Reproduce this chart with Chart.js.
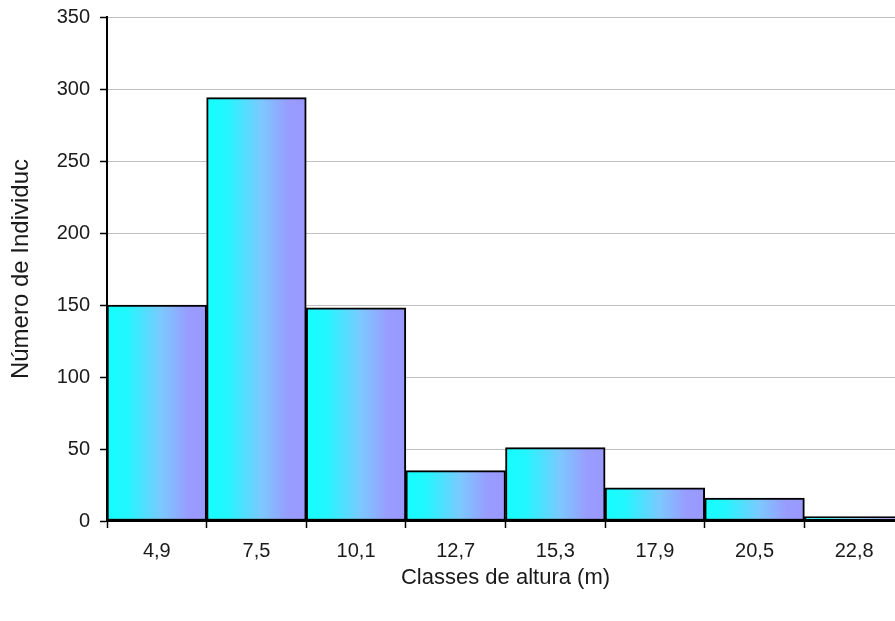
<!DOCTYPE html>
<html>
<head>
<meta charset="utf-8">
<script src="https://cdn.jsdelivr.net/npm/chart.js@4.4.1/dist/chart.umd.min.js"></script>
<style>
  html, body { margin: 0; padding: 0; background: #ffffff; overflow: hidden; }
  #wrap { width: 895px; height: 621px; overflow: hidden; position: relative; }
  canvas { display: block; }
</style>
</head>
<body>
<div id="wrap"><canvas id="c" width="906" height="621"></canvas></div>
<script>
// Height classes (class midpoints, metres) and number of individuals per class
const classes = ['4,9', '7,5', '10,1', '12,7', '15,3', '17,9', '20,5', '22,8'];
const individuals = [150, 294, 148, 35, 51, 23, 16, 3];
const yTicks = [0, 50, 100, 150, 200, 250, 300, 350];

const FONT = "'Liberation Sans', Arial, sans-serif";
const TEXT = '#1a1a1a';

// Horizontal cyan-to-lavender fill across each bar
function barFill(ctx) {
  const chart = ctx.chart;
  const x = chart.scales && chart.scales.x;
  if (!chart.chartArea || !x || ctx.dataIndex === undefined) return '#7fd0ff';
  const w = x.width / classes.length;
  const cx = x.getPixelForValue(ctx.dataIndex);
  const g = chart.ctx.createLinearGradient(cx - w / 2, 0, cx + w / 2, 0);
  g.addColorStop(0.0, '#14ffff');
  g.addColorStop(0.2, '#22f6ff');
  g.addColorStop(0.55, '#7cc8ff');
  g.addColorStop(0.82, '#999cff');
  g.addColorStop(1.0, '#9999ff');
  return g;
}

new Chart(document.getElementById('c'), {
  type: 'bar',
  data: {
    labels: classes,
    datasets: [{
      data: individuals,
      backgroundColor: barFill,
      borderColor: '#000000',
      borderWidth: 2,
      borderSkipped: false,
      barPercentage: 1.0,
      categoryPercentage: 1.0
    }]
  },
  options: {
    responsive: false,
    animation: false,
    layout: { padding: { left: 3, top: 17, right: 2, bottom: 26 } },
    plugins: { legend: { display: false }, tooltip: { enabled: false } },
    scales: {
      x: {
        offset: true,
        grid: {
          offset: true,
          drawOnChartArea: false,
          drawTicks: true,
          tickLength: 7,
          tickColor: '#000000',
          tickWidth: 1.5
        },
        border: { color: '#000000', width: 2 },
        ticks: { color: TEXT, font: { family: FONT, size: 20 }, padding: 11, maxRotation: 0 },
        title: { display: true, text: 'Classes de altura (m)', color: TEXT, font: { family: FONT, size: 22 } },
        afterFit: (s) => { s.height = 74; s.paddingLeft = 0; s.paddingRight = 0; }
      },
      y: {
        min: 0,
        max: 350,
        afterBuildTicks: (s) => { s.ticks = yTicks.map(v => ({ value: v })); },
        grid: {
          color: '#c0c0c0',
          lineWidth: 1,
          borderDash: [1, 2],
          drawTicks: true,
          tickLength: 7,
          tickColor: '#000000',
          tickWidth: 1.5,
          tickBorderDash: []
        },
        border: { color: '#000000', width: 2 },
        ticks: { color: TEXT, font: { family: FONT, size: 20 }, padding: 10 },
        title: { display: true, text: 'Número de Individuc', color: TEXT, font: { family: FONT, size: 24 } },
        afterFit: (s) => { s.width = 104; s.paddingTop = 0; s.paddingBottom = 0; }
      }
    }
  }
});
</script>
</body>
</html>
